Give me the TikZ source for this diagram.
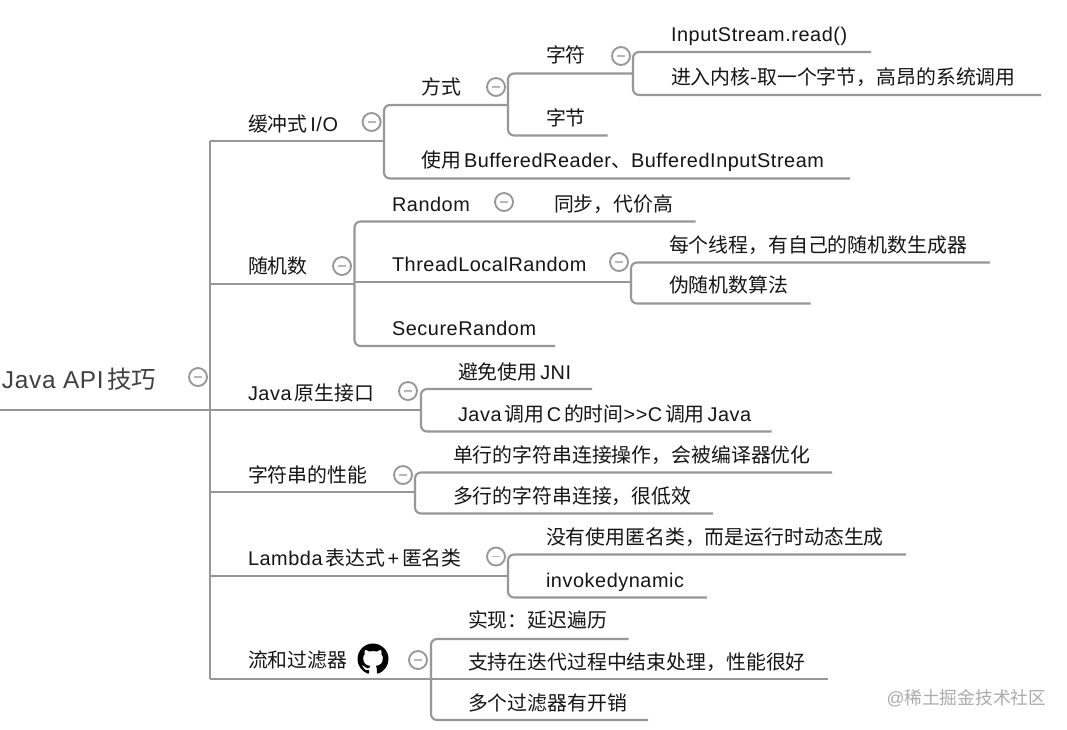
\documentclass[tikz,border=0pt]{standalone}
\usepackage{fontspec}
\setmainfont{Noto Sans CJK SC}
\newfontfamily\lat[LetterSpace=2.8]{Liberation Sans}
\newcommand{\La}[1]{{\lat #1}}
\newcommand{\ts}{\hspace{.14em}}
\definecolor{wire}{HTML}{979797}
\definecolor{ink}{HTML}{151515}
\definecolor{rootink}{HTML}{404040}
\definecolor{minusc}{HTML}{B4B4CC}
\definecolor{wm}{HTML}{ABABAB}
\tikzset{
  conn/.style={draw=wire,line width=1.6pt,rounded corners=4.5pt},
  trunkline/.style={draw=wire,line width=1.6pt},
  lbl/.style={anchor=west,inner sep=0pt,outer sep=0pt,text=ink,font=\fontsize{14.9pt}{17pt}\selectfont,text height=14.2pt,text depth=3pt},
  rootlbl/.style={anchor=west,inner sep=0pt,outer sep=0pt,text=rootink,font=\fontsize{18.3pt}{22pt}\selectfont,text height=18pt,text depth=3.6pt},
  wmlbl/.style={anchor=west,inner sep=0pt,outer sep=0pt,text=wm,font=\fontsize{13.3pt}{15pt}\selectfont,text height=12.7pt,text depth=2.6pt},
  fold/.style={circle,draw=wire,fill=white,line width=1.4pt,minimum size=13.5pt,inner sep=0pt,outer sep=0pt},
  foldbar/.style={draw=minusc,line width=1.4pt},
}
\newcommand{\foldat}[3]{\node[fold] (#1) at (#2,#3) {};
  \draw[foldbar] ([xshift=-3pt]#1.center) -- ([xshift=3pt]#1.center);}
\begin{document}
\begin{tikzpicture}[x=0.75pt,y=-0.75pt]
\useasboundingbox[fill=white] (0,0) rectangle (1067,729);
% root
\node[rootlbl] (root) at (2,379) {\La{Java API}\ts 技巧};
\foldat{f0}{198}{377}
\coordinate (r0) at (0,410.2);
\coordinate (tA) at (210,141.2);
\coordinate (tZ) at (210,679.2);
\coordinate (tJ) at (210,410.2);
\coordinate (tB) at (210,284);
\coordinate (tD) at (210,492);
\coordinate (tE) at (210,576);
\draw[trunkline] (r0) -- (tJ);
\draw[trunkline] (tA) -- (tZ);
% A
\node[lbl] (a) at (248,124) {缓冲式\ts\La{I/O}};
\foldat{fa}{371.6}{122}
\coordinate (ja) at (384,141.2);
\coordinate (ja2) at (508,105);
\coordinate (ea2) at (850,178.5);
\draw[trunkline] (tA) -- (ja);
\draw[conn] (ja2) -| (ja) |- (ea2);
\node[lbl] (a1) at (421.5,87) {方式};
\foldat{fa1}{496}{87}
\coordinate (ja11) at (633,73.5);
\coordinate (ea12) at (607.5,135.5);
\draw[conn] (ja11) -| (ja2) |- (ea12);
\node[lbl] (a11) at (546,55) {字符};
\foldat{fa11}{621}{56}
\node[lbl] (a12) at (546,118) {字节};
\coordinate (ea111) at (871,52);
\coordinate (ea112) at (1041,95);
\draw[conn] (ea111) -| (ja11) |- (ea112);
\node[lbl] (a111) at (671,34) {\La{InputStream.read()}};
\node[lbl] (a112) at (671,77) {进入内核-取一个字节，高昂的系统调用};
\node[lbl] (a2) at (421.5,160) {使用\ts\La{BufferedReader}、\La{BufferedInputStream}};
% B
\node[lbl] (b) at (248,266) {随机数};
\foldat{fb}{342}{266}
\coordinate (jb) at (354.5,284);
\coordinate (eb1) at (695.5,221.5);
\coordinate (jb2) at (631,282);
\coordinate (jb0) at (354.5,282);
\coordinate (eb3) at (555,346);
\draw[trunkline] (tB) -- (jb);
\draw[conn] (eb1) -| (jb) |- (eb3);
\draw[trunkline] (jb0) -- (jb2);
\node[lbl] (b1) at (392,204) {\La{Random}};
\foldat{fb1}{504}{202}
\node[lbl] (b11) at (554,204) {同步，代价高};
\node[lbl] (b2) at (392,264) {\La{ThreadLocalRandom}};
\foldat{fb2}{619}{262}
\coordinate (eb21) at (990,262.5);
\coordinate (eb22) at (810.5,303.5);
\draw[conn] (eb21) -| (jb2) |- (eb22);
\node[lbl] (b21) at (669,245) {每个线程，有自己的随机数生成器};
\node[lbl] (b22) at (669,285) {伪随机数算法};
\node[lbl] (b3) at (392,328) {\La{SecureRandom}};
% C
\node[lbl] (c) at (248,393) {\La{Java}\ts 原生接口};
\foldat{fc}{408}{391}
\coordinate (jc) at (421,410.2);
\coordinate (ec1) at (592,389);
\coordinate (ec2) at (771.5,431.5);
\draw[trunkline] (tJ) -- (jc);
\draw[conn] (ec1) -| (jc) |- (ec2);
\node[lbl] (c1) at (458,372) {避免使用\ts\La{JNI}};
\node[lbl] (c2) at (458,414) {\La{Java}\ts 调用\ts\La{C}\ts 的时间\La{>>C}\ts 调用\ts\La{Java}};
% D
\node[lbl] (d) at (248,475) {字符串的性能};
\foldat{fd}{403}{475}
\coordinate (jd) at (415,492);
\coordinate (ed1) at (832,472.5);
\coordinate (ed2) at (713,513.5);
\draw[trunkline] (tD) -- (jd);
\draw[conn] (ed1) -| (jd) |- (ed2);
\node[lbl] (d1) at (453,455) {单行的字符串连接操作，会被编译器优化};
\node[lbl] (d2) at (453,496) {多行的字符串连接，很低效};
% E
\node[lbl] (e) at (248,558) {\La{Lambda}\ts 表达式\ts\La{+}\ts 匿名类};
\foldat{fe}{496}{556.5}
\coordinate (je) at (508,576);
\coordinate (ee1) at (906,554.5);
\coordinate (ee2) at (707,597.5);
\draw[trunkline] (tE) -- (je);
\draw[conn] (ee1) -| (je) |- (ee2);
\node[lbl] (e1) at (546,537) {没有使用匿名类，而是运行时动态生成};
\node[lbl] (e2) at (546,580) {\La{invokedynamic}};
% F
\node[lbl] (f) at (248,660) {流和过滤器};
\begin{scope}[shift={(357.5,643.5)},scale=1.9375]
  \fill[black] (8,0) .. controls (3.58,0) and (0,3.58) .. (0,8)
    .. controls (0,11.54) and (2.29,14.53) .. (5.47,15.59)
    .. controls (5.87,15.66) and (6.02,15.42) .. (6.02,15.21)
    .. controls (6.02,15.02) and (6.01,14.39) .. (6.01,13.72)
    .. controls (4.00,14.09) and (3.48,13.23) .. (3.32,12.78)
    .. controls (3.23,12.55) and (2.84,11.84) .. (2.50,11.65)
    .. controls (2.22,11.50) and (1.82,11.13) .. (2.49,11.12)
    .. controls (3.12,11.11) and (3.57,11.70) .. (3.72,11.94)
    .. controls (4.44,13.15) and (5.59,12.81) .. (6.05,12.60)
    .. controls (6.12,12.08) and (6.33,11.73) .. (6.56,11.53)
    .. controls (4.78,11.33) and (2.92,10.64) .. (2.92,7.58)
    .. controls (2.92,6.71) and (3.23,5.99) .. (3.74,5.43)
    .. controls (3.66,5.23) and (3.38,4.41) .. (3.82,3.31)
    .. controls (3.82,3.31) and (4.49,3.10) .. (6.02,4.13)
    .. controls (6.66,3.95) and (7.34,3.86) .. (8.02,3.86)
    .. controls (8.70,3.86) and (9.38,3.95) .. (10.02,4.13)
    .. controls (11.55,3.09) and (12.22,3.31) .. (12.22,3.31)
    .. controls (12.66,4.41) and (12.38,5.23) .. (12.30,5.43)
    .. controls (12.81,5.99) and (13.12,6.70) .. (13.12,7.58)
    .. controls (13.12,10.65) and (11.25,11.33) .. (9.47,11.53)
    .. controls (9.76,11.78) and (10.01,12.26) .. (10.01,13.01)
    .. controls (10.01,14.08) and (10.00,14.94) .. (10.00,15.21)
    .. controls (10.00,15.42) and (10.15,15.67) .. (10.55,15.59)
    .. controls (13.73,14.53) and (16,11.53) .. (16,8)
    .. controls (16,3.58) and (12.42,0) .. (8,0) -- cycle;
\end{scope}
\foldat{ff}{418}{660}
\coordinate (jf) at (431,679.2);
\coordinate (ef1) at (628.5,639);
\coordinate (ef2) at (828,679.2);
\coordinate (ef3) at (648,720);
\draw[trunkline] (tZ) -- (ef2);
\draw[conn] (ef1) -| (jf) |- (ef3);
\node[lbl] (f1) at (468,620) {实现：延迟遍历};
\node[lbl] (f2) at (468,662) {支持在迭代过程中结束处理，性能很好};
\node[lbl] (f3) at (468,703) {多个过滤器有开销};
% watermark
\node[wmlbl] (wmk) at (886.5,698) {\La{@}稀土掘金技术社区};
\end{tikzpicture}
\end{document}
